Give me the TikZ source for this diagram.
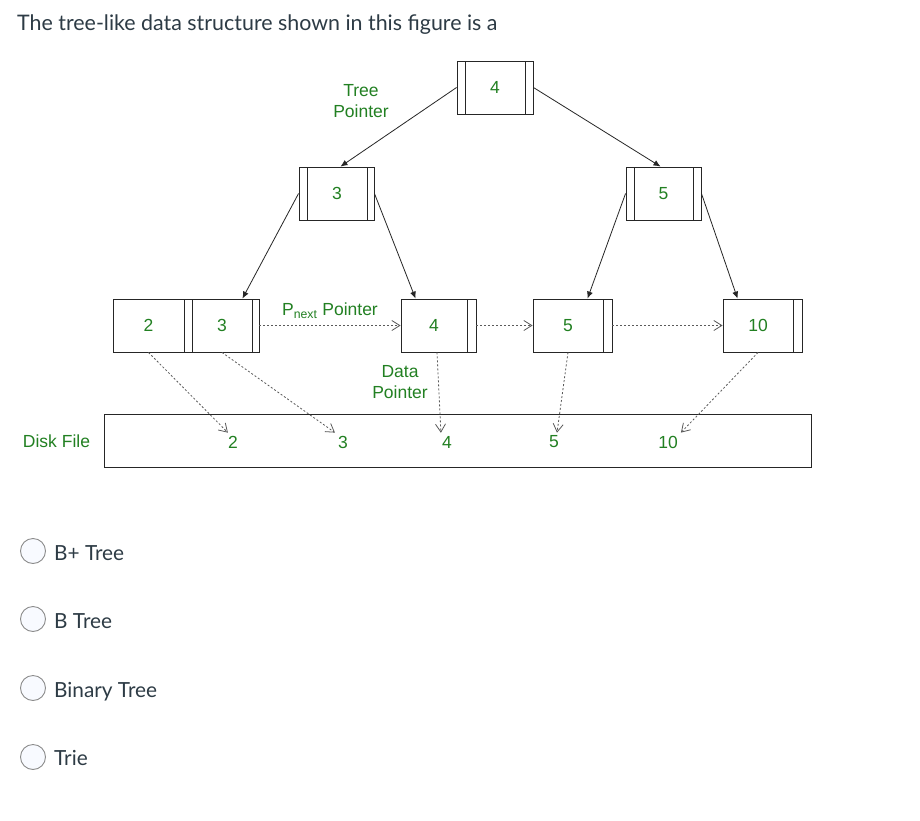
\documentclass[tikz,border=0pt]{standalone}
\usepackage{fontspec}
\setmainfont{Liberation Sans}
\newfontfamily\latofont{Lato}
\usetikzlibrary{arrows.meta}
\definecolor{lblgreen}{RGB}{34,128,34}
\definecolor{qtext}{RGB}{45,59,69}
\definecolor{dashgray}{RGB}{90,90,90}
\definecolor{radiofill}{RGB}{248,250,255}
\definecolor{radioline}{RGB}{140,140,140}
\begin{document}
\begin{tikzpicture}[x=1pt,y=-1pt,
  box/.style={draw=black!85, line width=0.9pt, inner sep=0pt, minimum height=53pt},
  cell/.style={box, font=\fontsize{17.5}{20}\selectfont, text=lblgreen},
  lbl/.style={font=\fontsize{17.5}{20.5}\selectfont, text=lblgreen, align=center, inner sep=0pt},
  disknum/.style={font=\fontsize{17.5}{20}\selectfont, text=lblgreen, inner sep=3pt},
  treeptr/.style={draw=black!85, line width=0.8pt, -{Latex[length=7pt,width=6pt]}},
  dataptr/.style={draw=dashgray, line width=0.8pt, dash pattern=on 2pt off 2pt, -{Straight Barb[length=8pt,width=10pt]}},
  qtitle/.style={font=\latofont\fontsize{21.4}{24}\selectfont, text=qtext, inner sep=0pt, anchor=base west},
  opt/.style={font=\latofont\fontsize{20.8}{24}\selectfont, text=qtext, inner sep=0pt, anchor=base west},
  radio/.style={circle, draw=radioline, fill=radiofill, line width=0.9pt, minimum size=25pt, inner sep=0pt}
]
\useasboundingbox[fill=white] (0,0) rectangle (920,821);

% question
\node[qtitle] (title) at (17,31) {The tree-like data structure shown in this figure is a};

% internal nodes
\node[box, minimum width=76pt] (root) at (495,87.5) {};
\node[cell, minimum width=60pt] (rootc) at (495,87.5) {4};
\node[box, minimum width=75pt] (n3) at (336.5,193.5) {};
\node[cell, minimum width=60pt] (n3c) at (337,193.5) {3};
\node[box, minimum width=75pt] (n5) at (663.5,193.5) {};
\node[cell, minimum width=59pt] (n5c) at (663.5,193.5) {5};

% leaves
\node[box, minimum width=146pt] (leafA) at (186,325.5) {};
\node[cell, minimum width=71pt] (c2) at (148.5,325.5) {2};
\node[cell, minimum width=60pt] (c3) at (222,325.5) {3};
\node[box, minimum width=75pt] (leaf4) at (438.5,325.5) {};
\node[cell, minimum width=66pt] (c4) at (434,325.5) {4};
\node[box, minimum width=79pt] (leaf5) at (572.5,325.5) {};
\node[cell, minimum width=70pt] (c5) at (568,325.5) {5};
\node[box, minimum width=79pt] (leaf10) at (762.5,325.5) {};
\node[cell, minimum width=70pt] (c10) at (758,325.5) {10};

% disk file
\node[box, minimum width=707pt] (disk) at (457.5,440.5) {};
\node[lbl] (disklbl) at (56.5,441) {Disk File};
\node[disknum] (d2) at (233,442) {2};
\node[disknum] (d3) at (343,442) {3};
\node[disknum] (d4) at (447,442) {4};
\node[disknum] (d5) at (554,442) {5};
\node[disknum] (d10) at (668,442) {10};

% labels
\node[lbl] (treelbl) at (361,101) {Tree\\Pointer};
\node[lbl] (pnextlbl) at (330,311) {P\textsubscript{next} Pointer};
\node[lbl] (datalbl) at (400,382) {Data\\Pointer};

% tree pointers
\draw[treeptr] (root.west) -- ([xshift=4pt]n3.north);
\draw[treeptr] (root.east) -- ([xshift=-3pt]n5.north);
\draw[treeptr] (n3.west) -- ([xshift=-10pt]c3.north east);
\draw[treeptr] (n3.east) -- ([xshift=15pt]leaf4.north west);
\draw[treeptr] (n5.west) -- ([xshift=15pt]leaf5.north);
\draw[treeptr] (n5.east) -- ([xshift=15pt]leaf10.north west);

% next pointers
\draw[dataptr] (leafA.east) -- (leaf4.west);
\draw[dataptr] (leaf4.east) -- (leaf5.west);
\draw[dataptr] (leaf5.east) -- (leaf10.west);

% data pointers
\draw[dataptr] (c2.south) -- ([xshift=3pt]d2.north west);
\draw[dataptr] (c3.south) -- (d3.north west);
\draw[dataptr] ([xshift=3pt]c4.south) -- ([xshift=2pt]d4.north west);
\draw[dataptr] (c5.south) -- ([xshift=3pt]d5.north);
\draw[dataptr] (c10.south) -- (d10.north east);

% options
\node[radio] (r1) at (33,551) {};
\node[opt] (o1) at (54,560) {B+ Tree};
\node[radio] (r2) at (33,619) {};
\node[opt] (o2) at (54,628) {B Tree};
\node[radio] (r3) at (33,688) {};
\node[opt] (o3) at (54,697) {Binary Tree};
\node[radio] (r4) at (33,757) {};
\node[opt] (o4) at (54,765) {Trie};
\end{tikzpicture}
\end{document}
